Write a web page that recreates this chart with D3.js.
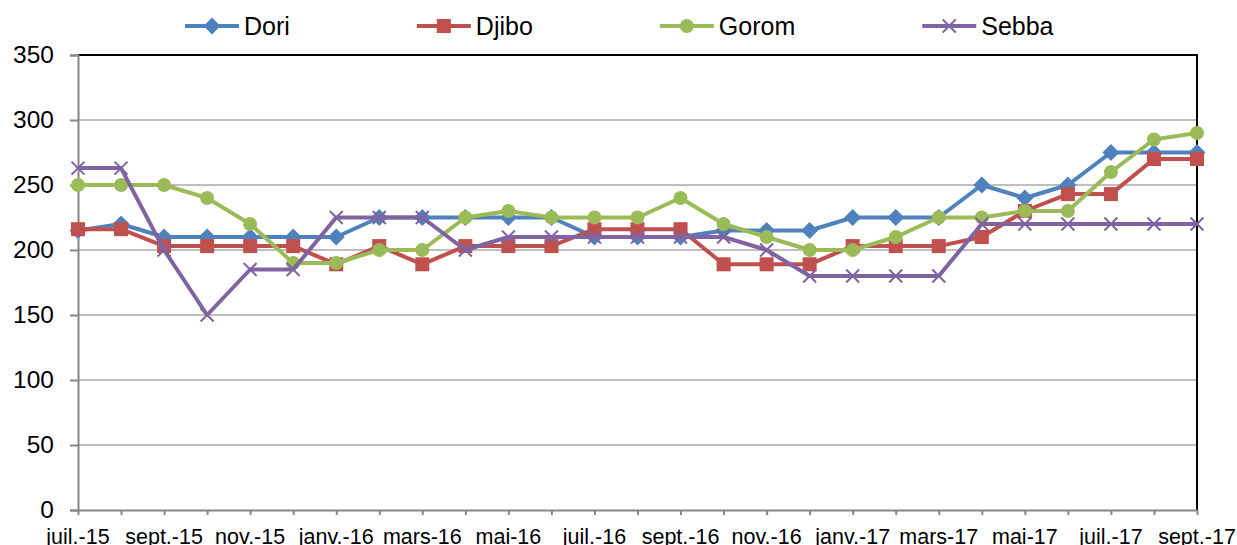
<!DOCTYPE html>
<html>
<head>
<meta charset="utf-8">
<script src="https://cdn.jsdelivr.net/npm/d3@7"></script>
<style>
  body { margin: 0; background: #fff; }
  svg text { font-family: "Liberation Sans", Arial, sans-serif; fill: #000; }
</style>
</head>
<body>
<svg id="chart" width="1237" height="545"></svg>
<script>
var months = ['juil.-15','août-15','sept.-15','oct.-15','nov.-15','déc.-15',
              'janv.-16','févr.-16','mars-16','avr.-16','mai-16','juin-16',
              'juil.-16','août-16','sept.-16','oct.-16','nov.-16','déc.-16',
              'janv.-17','févr.-17','mars-17','avr.-17','mai-17','juin-17',
              'juil.-17','août-17','sept.-17'];
var dori  = [215,220,210,210,210,210,210,225,225,225,225,225,210,210,210,215,215,215,225,225,225,250,240,250,275,275,275];
var djibo = [216,216,203,203,203,203,189,203,189,203,203,203,216,216,216,189,189,189,203,203,203,210,230,243,243,270,270];
var gorom = [250,250,250,240,220,190,190,200,200,225,230,225,225,225,240,220,210,200,200,210,225,225,230,230,260,285,290];
var sebba = [263,263,200,150,185,185,225,225,225,200,210,210,210,210,210,210,200,180,180,180,180,220,220,220,220,220,220];
var yTicks = [0,50,100,150,200,250,300,350];

var series = [
  { name: 'Dori',  values: dori,  color: '#4F81BD', marker: 'diamond' },
  { name: 'Djibo', values: djibo, color: '#C0504D', marker: 'square' },
  { name: 'Gorom', values: gorom, color: '#9BBB59', marker: 'circle' },
  { name: 'Sebba', values: sebba, color: '#8064A2', marker: 'cross' }
];

var svg = d3.select('#chart');
var plotLeft = 78, plotRight = 1197, plotTop = 55, plotBottom = 510;

var x = d3.scalePoint().domain(months).range([plotLeft, plotRight]);
var y = d3.scaleLinear().domain([0, 350]).range([plotBottom, plotTop]);

// gridlines
svg.append('g').selectAll('line').data(yTicks.filter(d => d > 0 && d < 350)).enter().append('line')
  .attr('x1', plotLeft).attr('x2', plotRight)
  .attr('y1', d => y(d)).attr('y2', d => y(d))
  .style('stroke', '#BEBEBE').style('stroke-width', 2);

// top and right border
svg.append('path')
  .attr('d', 'M' + plotLeft + ',' + y(350) + 'H' + plotRight + 'V' + plotBottom)
  .style('fill', 'none').style('stroke', '#000').style('stroke-width', 2);

// y axis
var yAxis = svg.append('g').attr('transform', 'translate(' + plotLeft + ',0)')
  .call(d3.axisLeft(y).tickValues(yTicks).tickSize(8).tickPadding(16));
yAxis.select('.domain').style('stroke', '#868686').style('stroke-width', 2);
yAxis.selectAll('.tick line').style('stroke', '#868686').style('stroke-width', 2);
yAxis.selectAll('text').style('font-size', '24.5px').style('fill', '#000')
  .style('font-family', '"Liberation Sans", Arial, sans-serif');

// x axis
var xAxis = svg.append('g').attr('transform', 'translate(0,' + plotBottom + ')')
  .call(d3.axisBottom(x).tickSize(5).tickSizeOuter(0).tickFormat(''));
xAxis.select('.domain').style('stroke', '#868686').style('stroke-width', 2);
xAxis.selectAll('.tick line').style('stroke', '#868686').style('stroke-width', 2);

svg.append('g').selectAll('text').data(months.filter((d, i) => i % 2 == 0)).enter().append('text')
  .attr('x', d => x(d)).attr('y', plotBottom + 19).attr('dy', '0.71em')
  .attr('text-anchor', 'middle').style('font-size', '21.5px').text(d => d);

// markers
function drawMarker(g, type, color, cx, cy){
  if(type == 'diamond'){
    g.append('path').attr('d', 'M' + cx + ',' + (cy-8.5) + 'L' + (cx+8.5) + ',' + cy + 'L' + cx + ',' + (cy+8.5) + 'L' + (cx-8.5) + ',' + cy + 'Z')
      .style('fill', color);
  } else if(type == 'square'){
    g.append('rect').attr('x', cx-7).attr('y', cy-7).attr('width', 14).attr('height', 14).style('fill', color);
  } else if(type == 'circle'){
    g.append('circle').attr('cx', cx).attr('cy', cy).attr('r', 7).style('fill', color);
  } else {
    g.append('path').attr('d', 'M' + (cx-6.5) + ',' + (cy-6.5) + 'L' + (cx+6.5) + ',' + (cy+6.5) + 'M' + (cx+6.5) + ',' + (cy-6.5) + 'L' + (cx-6.5) + ',' + (cy+6.5))
      .style('stroke', color).style('stroke-width', 2);
  }
}

var lineGen = d3.line().x((d, i) => x(months[i])).y(d => y(d));

series.forEach(s => {
  var g = svg.append('g');
  g.append('path').attr('d', lineGen(s.values))
    .style('fill', 'none').style('stroke', s.color).style('stroke-width', 4).style('stroke-linejoin', 'round');
  s.values.forEach((v, i) => drawMarker(g, s.marker, s.color, x(months[i]), y(v)));
});

// legend
var lx = 185, ly = 26;
series.forEach(s => {
  var g = svg.append('g');
  g.append('line').attr('x1', lx).attr('x2', lx + 54).attr('y1', ly).attr('y2', ly)
    .style('stroke', s.color).style('stroke-width', 4);
  drawMarker(g, s.marker, s.color, lx + 27, ly);
  var t = g.append('text').attr('x', lx + 59).attr('y', ly).attr('dy', '0.35em')
    .style('font-size', '25px').text(s.name);
  lx = lx + 59 + t.node().getComputedTextLength() + 127;
});
</script>
</body>
</html>
